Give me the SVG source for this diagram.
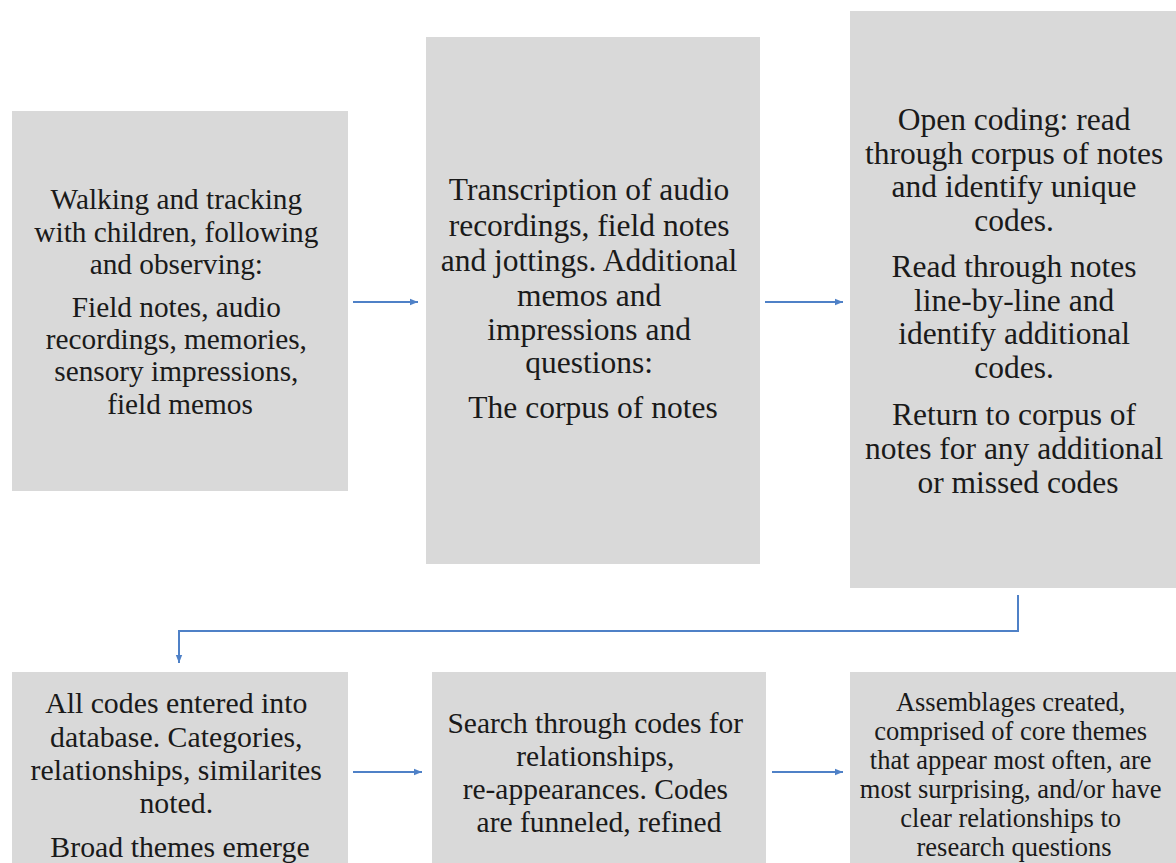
<svg xmlns="http://www.w3.org/2000/svg" width="1176" height="863" viewBox="0 0 1176 863">
<defs>
<marker id="ah" viewBox="0 0 10 10" refX="10" refY="5" markerWidth="10" markerHeight="8" markerUnits="userSpaceOnUse" orient="auto">
<path d="M0,1 L10,5 L0,9 Z" fill="#4f81c7"/>
</marker>
<style>
.box{fill:#d9d9d9}
.t{font-family:"Liberation Serif","Times New Roman",serif;fill:#1a1a1a;text-anchor:middle}
.c{fill:none;stroke:#4f81c7;stroke-width:2}
</style>
</defs>
<rect width="1176" height="863" fill="#ffffff"/>
<g id="node1">
<rect class="box" x="12" y="111" width="336" height="380"/>
<text class="t" font-size="29.3">
<tspan x="180" y="209">Walking and tracking</tspan>
<tspan x="180" y="242">with children, following</tspan>
<tspan x="180" y="274">and observing:</tspan>
<tspan x="180" y="317">Field notes, audio</tspan>
<tspan x="180" y="349">recordings, memories,</tspan>
<tspan x="180" y="381">sensory impressions,</tspan>
<tspan x="180" y="414">field memos</tspan>
</text>
</g>
<g id="node2">
<rect class="box" x="426" y="37" width="334" height="527"/>
<text class="t" font-size="31.5">
<tspan x="593" y="200">Transcription of audio</tspan>
<tspan x="593" y="236">recordings, field notes</tspan>
<tspan x="593" y="271">and jottings. Additional</tspan>
<tspan x="593" y="306">memos and</tspan>
<tspan x="593" y="340">impressions and</tspan>
<tspan x="593" y="373">questions:</tspan>
<tspan x="593" y="418">The corpus of notes</tspan>
</text>
</g>
<g id="node3">
<rect class="box" x="850" y="11" width="340" height="577"/>
<text class="t" font-size="31.5">
<tspan x="1018" y="130">Open coding: read</tspan>
<tspan x="1018" y="164">through corpus of notes</tspan>
<tspan x="1018" y="197">and identify unique</tspan>
<tspan x="1018" y="231">codes.</tspan>
<tspan x="1018" y="277">Read through notes</tspan>
<tspan x="1018" y="311">line-by-line and</tspan>
<tspan x="1018" y="344">identify additional</tspan>
<tspan x="1018" y="378">codes.</tspan>
<tspan x="1018" y="425">Return to corpus of</tspan>
<tspan x="1018" y="459">notes for any additional</tspan>
<tspan x="1018" y="493">or missed codes</tspan>
</text>
</g>
<g id="node4">
<rect class="box" x="12" y="672" width="336" height="200"/>
<text class="t" font-size="29.8">
<tspan x="180" y="713">All codes entered into</tspan>
<tspan x="180" y="747">database. Categories,</tspan>
<tspan x="180" y="780">relationships, similarites</tspan>
<tspan x="180" y="813">noted.</tspan>
<tspan x="180" y="857">Broad themes emerge</tspan>
</text>
</g>
<g id="node5">
<rect class="box" x="432" y="672" width="334" height="200"/>
<text class="t" font-size="29.5">
<tspan x="599" y="733">Search through codes for</tspan>
<tspan x="599" y="766">relationships,</tspan>
<tspan x="599" y="799">re-appearances. Codes</tspan>
<tspan x="599" y="832">are funneled, refined</tspan>
</text>
</g>
<g id="node6">
<rect class="box" x="850" y="672" width="340" height="200"/>
<text class="t" font-size="26.5">
<tspan x="1014" y="711">Assemblages created,</tspan>
<tspan x="1014" y="740">comprised of core themes</tspan>
<tspan x="1014" y="769">that appear most often, are</tspan>
<tspan x="1014" y="798">most surprising, and/or have</tspan>
<tspan x="1014" y="827">clear relationships to</tspan>
<tspan x="1014" y="856">research questions</tspan>
</text>
</g>
<g id="connectors">
<path class="c" d="M353,302 H418" marker-end="url(#ah)"/>
<path class="c" d="M765,302 H843" marker-end="url(#ah)"/>
<path class="c" d="M353,772 H422" marker-end="url(#ah)"/>
<path class="c" d="M772,772 H843" marker-end="url(#ah)"/>
<path class="c" d="M1018,595 V631 H179 V663" marker-end="url(#ah)"/>
</g>
</svg>
